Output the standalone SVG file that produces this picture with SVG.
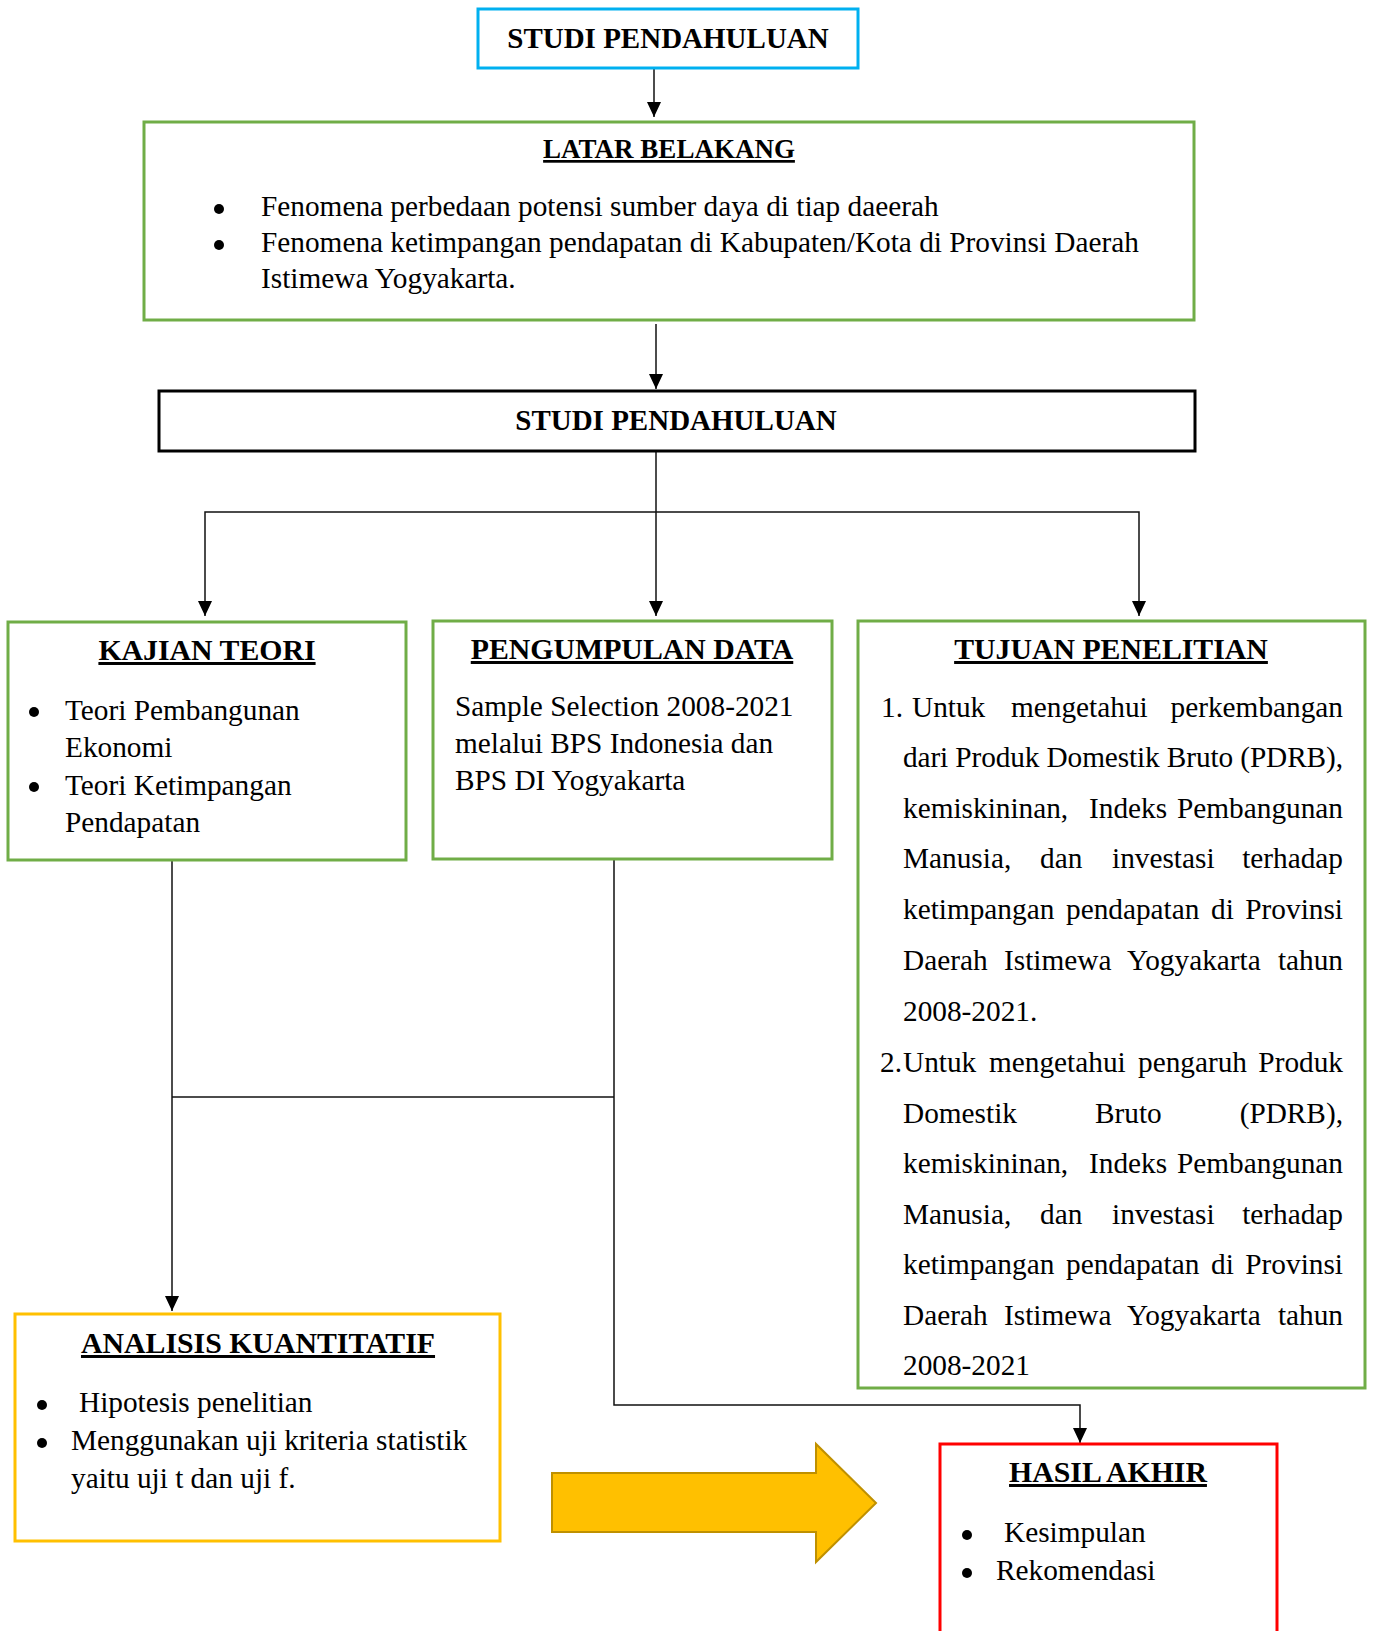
<svg xmlns="http://www.w3.org/2000/svg" width="1373" height="1631" viewBox="0 0 1373 1631">
<style>
text{font-family:"Liberation Serif","Times New Roman",serif;font-size:29.3px;fill:#000}
.t{font-weight:bold;text-decoration:underline;text-anchor:middle;font-size:29.8px}
.h{font-weight:bold;text-anchor:middle;font-size:29px}
.e{text-anchor:end}
.box{fill:#fff;stroke-width:3}
.g{stroke:#70AD47}
.c{fill:#000}
.ln{fill:none;stroke:#111;stroke-width:1.5}
</style>
<defs>
<marker id="ah" markerUnits="userSpaceOnUse" markerWidth="16" markerHeight="16" refX="15" refY="7" orient="auto">
<path d="M0,0 L15,7 L0,14 z" fill="#000"/>
</marker>
</defs>
<rect width="1373" height="1631" fill="#fff"/>
<g id="connectors">
<path class="ln" d="M654,69 V117" marker-end="url(#ah)"/>
<path class="ln" d="M656,324 V389" marker-end="url(#ah)"/>
<path class="ln" d="M656,451 V616" marker-end="url(#ah)"/>
<path class="ln" d="M656,512 H205 V616" marker-end="url(#ah)"/>
<path class="ln" d="M656,512 H1139 V616" marker-end="url(#ah)"/>
<path class="ln" d="M172,860 V1311" marker-end="url(#ah)"/>
<path class="ln" d="M172,1097 H614"/>
<path class="ln" d="M614,859 V1405 H1080 V1443" marker-end="url(#ah)"/>
</g>
<g id="studi-top">
<rect class="box" x="478" y="9" width="380" height="59" stroke="#00B0F0"/>
<text class="h" x="668" y="48">STUDI PENDAHULUAN</text>
</g>
<g id="latar-belakang">
<rect class="box g" x="144" y="122" width="1050" height="198"/>
<text class="t" x="669" y="158" style="font-size:27px">LATAR BELAKANG</text>
<circle class="c" cx="219" cy="209" r="5"/>
<circle class="c" cx="219" cy="245" r="5"/>
<text x="261" y="216">Fenomena perbedaan potensi sumber daya di tiap daeerah</text>
<text x="261" y="252">Fenomena ketimpangan pendapatan di Kabupaten/Kota di Provinsi Daerah</text>
<text x="261" y="288">Istimewa Yogyakarta.</text>
</g>
<g id="studi-mid">
<rect class="box" x="159" y="391" width="1036" height="60" stroke="#000"/>
<text class="h" x="676" y="430">STUDI PENDAHULUAN</text>
</g>
<g id="kajian-teori">
<rect class="box g" x="8" y="622" width="398" height="238"/>
<text class="t" x="207" y="660">KAJIAN TEORI</text>
<circle class="c" cx="34" cy="712" r="5"/>
<circle class="c" cx="34" cy="787" r="5"/>
<text x="65" y="719.5">Teori Pembangunan</text>
<text x="65" y="757">Ekonomi</text>
<text x="65" y="794.5">Teori Ketimpangan</text>
<text x="65" y="832">Pendapatan</text>
</g>
<g id="pengumpulan-data">
<rect class="box g" x="433" y="621" width="399" height="238"/>
<text class="t" x="632" y="659">PENGUMPULAN DATA</text>
<text x="455" y="716">Sample Selection 2008-2021</text>
<text x="455" y="753">melalui BPS Indonesia dan</text>
<text x="455" y="790">BPS DI Yogyakarta</text>
</g>
<g id="tujuan-penelitian">
<rect class="box g" x="858" y="621" width="507" height="767"/>
<text class="t" x="1111" y="659">TUJUAN PENELITIAN</text>
<text x="881" y="717">1.</text>
<text x="912" y="717">Untuk</text><text x="1011" y="717">mengetahui</text><text class="e" x="1343" y="717">perkembangan</text>
<text x="903" y="767" textLength="440" lengthAdjust="spacing">dari Produk Domestik Bruto (PDRB),</text>
<text x="903" y="818">kemiskininan,</text><text x="1089" y="818">Indeks</text><text class="e" x="1343" y="818">Pembangunan</text>
<text x="903" y="868">Manusia,</text><text x="1040" y="868">dan</text><text x="1112" y="868">investasi</text><text class="e" x="1343" y="868">terhadap</text>
<text x="903" y="919">ketimpangan</text><text x="1066" y="919">pendapatan</text><text x="1211" y="919">di</text><text class="e" x="1343" y="919">Provinsi</text>
<text x="903" y="970">Daerah</text><text x="1004" y="970">Istimewa</text><text x="1127" y="970">Yogyakarta</text><text class="e" x="1343" y="970">tahun</text>
<text x="903" y="1021">2008-2021.</text>
<text x="880" y="1072">2.</text>
<text x="903" y="1072">Untuk</text><text x="989" y="1072">mengetahui</text><text x="1138" y="1072">pengaruh</text><text class="e" x="1343" y="1072">Produk</text>
<text x="903" y="1122.5">Domestik</text><text x="1095" y="1122.5">Bruto</text><text class="e" x="1343" y="1122.5">(PDRB),</text>
<text x="903" y="1173">kemiskininan,</text><text x="1089" y="1173">Indeks</text><text class="e" x="1343" y="1173">Pembangunan</text>
<text x="903" y="1223.5">Manusia,</text><text x="1040" y="1223.5">dan</text><text x="1112" y="1223.5">investasi</text><text class="e" x="1343" y="1223.5">terhadap</text>
<text x="903" y="1274">ketimpangan</text><text x="1066" y="1274">pendapatan</text><text x="1211" y="1274">di</text><text class="e" x="1343" y="1274">Provinsi</text>
<text x="903" y="1324.5">Daerah</text><text x="1004" y="1324.5">Istimewa</text><text x="1127" y="1324.5">Yogyakarta</text><text class="e" x="1343" y="1324.5">tahun</text>
<text x="903" y="1375">2008-2021</text>
</g>
<g id="analisis-kuantitatif">
<rect class="box" x="15" y="1314" width="485" height="227" stroke="#FFC000" stroke-width="2.5"/>
<text class="t" x="258" y="1353">ANALISIS KUANTITATIF</text>
<circle class="c" cx="42" cy="1405" r="5"/>
<circle class="c" cx="42" cy="1443" r="5"/>
<text x="79" y="1412">Hipotesis penelitian</text>
<text x="71" y="1450">Menggunakan uji kriteria statistik</text>
<text x="71" y="1488">yaitu uji t dan uji f.</text>
</g>
<g id="block-arrow">
<path d="M552,1473 H816 V1444 L876,1503 L816,1562 V1532 H552 Z" fill="#FFC000" stroke="#BF9000" stroke-width="2"/>
</g>
<g id="hasil-akhir">
<rect class="box" x="940" y="1444" width="337" height="200" stroke="#FF0000" stroke-width="2.5"/>
<text class="t" x="1108" y="1482">HASIL AKHIR</text>
<circle class="c" cx="967" cy="1535" r="5"/>
<circle class="c" cx="967" cy="1573" r="5"/>
<text x="1004" y="1542">Kesimpulan</text>
<text x="996" y="1580">Rekomendasi</text>
</g>
</svg>
